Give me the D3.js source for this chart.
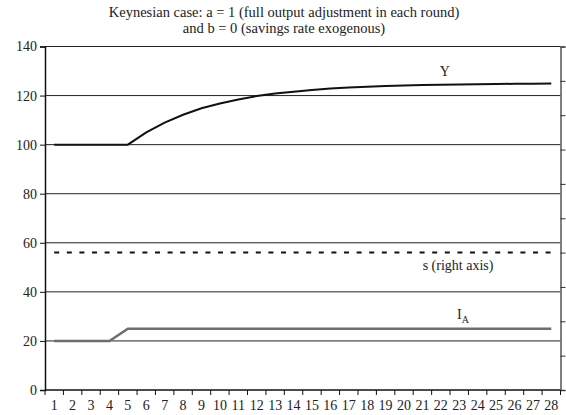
<!DOCTYPE html>
<html>
<head>
<meta charset="utf-8">
<script src="https://cdn.jsdelivr.net/npm/d3@7"></script>
<style>
  body { margin: 0; background: #fff; }
</style>
</head>
<body>
<div id="chart"></div>
<script>
// periods 1..28
var periods = d3.range(1, 29);
// output Y (left axis)
var yValues = [100, 100, 100, 100, 100, 105, 109, 112.2, 114.8, 116.8, 118.4, 119.8, 120.8, 121.6,
               122.3, 122.9, 123.3, 123.6, 123.9, 124.1, 124.3, 124.4, 124.5, 124.6, 124.7, 124.8, 124.8, 124.9];
// autonomous investment I_A (left axis)
var iaValues = [20, 20, 20, 20, 25, 25, 25, 25, 25, 25, 25, 25, 25, 25,
                25, 25, 25, 25, 25, 25, 25, 25, 25, 25, 25, 25, 25, 25];
// savings rate s (right axis)
var sValues = [0.2, 0.2, 0.2, 0.2, 0.2, 0.2, 0.2, 0.2, 0.2, 0.2, 0.2, 0.2, 0.2, 0.2,
               0.2, 0.2, 0.2, 0.2, 0.2, 0.2, 0.2, 0.2, 0.2, 0.2, 0.2, 0.2, 0.2, 0.2];
var leftTicks = [0, 20, 40, 60, 80, 100, 120, 140];
var rightTicks = [0, 0.05, 0.1, 0.15, 0.2, 0.25, 0.3, 0.35, 0.4, 0.45, 0.5];

var FONT = "'Liberation Serif', 'Times New Roman', 'DejaVu Serif', serif";

var margin = {top: 46.5, right: 5.5, bottom: 25, left: 45},
    width = 566 - margin.left - margin.right,
    height = 415 - margin.top - margin.bottom;

const svg = d3.select("#chart")
  .append("svg")
    .attr("width", 566)
    .attr("height", 415)
    .style("font-family", FONT);

// title
svg.append("text")
  .attr("x", 284).attr("y", 17)
  .attr("text-anchor", "middle")
  .style("font-family", FONT)
  .style("font-size", "14.5px")
  .attr("fill", "#222")
  .text("Keynesian case: a = 1 (full output adjustment in each round)");
svg.append("text")
  .attr("x", 284).attr("y", 33)
  .attr("text-anchor", "middle")
  .style("font-family", FONT)
  .style("font-size", "14.5px")
  .attr("fill", "#222")
  .text("and b = 0 (savings rate exogenous)");

const g = svg.append("g")
  .attr("transform", `translate(${margin.left},${margin.top})`);

const x = d3.scaleBand()
  .domain(periods)
  .range([0, width]);

const y = d3.scaleLinear()
  .domain([0, 140])
  .range([height, 0]);

const y2 = d3.scaleLinear()
  .domain([0, 0.5])
  .range([height, 0]);

// horizontal gridlines
g.append("g")
  .selectAll("line")
  .data(leftTicks.filter(d => d > 0))
  .join("line")
    .attr("x1", 0).attr("x2", width)
    .attr("y1", d => y(d)).attr("y2", d => y(d))
    .attr("stroke", "#222")
    .attr("stroke-width", 1);

// left axis
const yAxis = g.append("g")
  .call(d3.axisLeft(y).tickValues(leftTicks).tickSize(5).tickPadding(3));
yAxis.attr("font-family", FONT);
yAxis.select(".domain").attr("stroke", "#111").attr("stroke-width", 1.5);
yAxis.selectAll(".tick line").attr("stroke", "#111");
yAxis.selectAll("text")
  .style("font-size", "14px")
  .style("font-family", FONT)
  .attr("fill", "#222");

// right axis, no labels
const y2Axis = g.append("g")
  .attr("transform", `translate(${width},0)`)
  .call(d3.axisRight(y2).tickValues(rightTicks).tickSize(5).tickFormat(""));
y2Axis.select(".domain").attr("stroke", "#555").attr("stroke-width", 1.5);
y2Axis.selectAll(".tick line").attr("stroke", "#333");

// x axis: ticks on band edges, labels on band centres
const xAxis = g.append("g")
  .attr("transform", `translate(0,${height})`);
xAxis.append("line")
  .attr("x1", 0).attr("x2", width)
  .attr("stroke", "#111").attr("stroke-width", 1.5);
xAxis.selectAll(".edge")
  .data(periods.concat([29]))
  .join("line")
    .attr("class", "edge")
    .attr("x1", d => d <= 28 ? x(d) : width)
    .attr("x2", d => d <= 28 ? x(d) : width)
    .attr("y1", 0).attr("y2", 5)
    .attr("stroke", "#111");
xAxis.selectAll(".lbl")
  .data(periods)
  .join("text")
    .attr("class", "lbl")
    .attr("x", d => x(d) + x.bandwidth() / 2)
    .attr("y", 20)
    .attr("text-anchor", "middle")
    .attr("fill", "#222")
    .style("font-family", FONT)
    .style("font-size", "14px")
    .text(d => d);

const cx = (d, i) => x(periods[i]) + x.bandwidth() / 2;

// s dashed
g.append("path")
  .datum(sValues)
  .attr("fill", "none")
  .attr("stroke", "#111")
  .attr("stroke-width", 2)
  .attr("stroke-dasharray", "5,7.6")
  .attr("d", d3.line().x(cx).y(d => y2(d)));

// I_A
g.append("path")
  .datum(iaValues)
  .attr("fill", "none")
  .attr("stroke", "#6e6e6e")
  .attr("stroke-width", 2.5)
  .attr("d", d3.line().x(cx).y(d => y(d)));

// Y
g.append("path")
  .datum(yValues)
  .attr("fill", "none")
  .attr("stroke", "#111")
  .attr("stroke-width", 2)
  .attr("d", d3.line().x(cx).y(d => y(d)));

// series labels
g.append("text")
  .attr("x", x(22) + 8).attr("y", y(128))
  .attr("fill", "#222")
  .style("font-family", FONT)
  .style("font-size", "14px")
  .text("Y");
g.append("text")
  .attr("x", x(23) + 8).attr("y", y2(0.2) + 17.5)
  .attr("text-anchor", "middle")
  .attr("fill", "#222")
  .style("font-family", FONT)
  .style("font-size", "14px")
  .text("s (right axis)");
const ia = g.append("text")
  .attr("x", x(23) + 7).attr("y", y(29))
  .attr("fill", "#222")
  .style("font-family", FONT)
  .style("font-size", "14px")
  .text("I");
ia.append("tspan")
  .attr("dy", 4)
  .style("font-size", "10px")
  .text("A");
</script>
</body>
</html>
